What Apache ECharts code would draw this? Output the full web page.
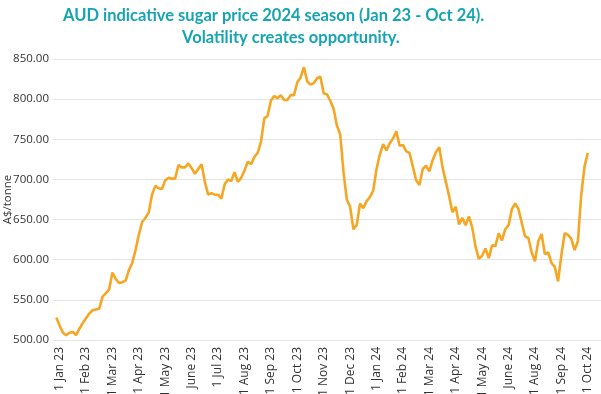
<!DOCTYPE html>
<html>
<head>
<meta charset="utf-8">
<script src="https://cdn.jsdelivr.net/npm/echarts@6/dist/echarts.min.js"></script>
<style>
html,body{margin:0;padding:0;background:#fff;}
#chart{width:601px;height:394px;}
</style>
</head>
<body>
<div id="chart"></div>
<script>
// Tick labels (evenly spaced on the category axis, one every 8 data points)
const tickLabels = ['1 Jan 23','1 Feb 23','1 Mar 23','1 Apr 23','1 May 23','1 June 23','1 Jul 23','1 Aug 23','1 Sep 23','1 Oct 23','1 Nov 23','1 Dec 23','1 Jan 24','1 Feb 24','1 Mar 24','1 Apr 24','1 May 24','1 June 24','1 Aug 24','1 Sep 24','1 Oct 24'];

// AUD indicative sugar price, A$/tonne
const prices = [
528,518,509,506,509,510,506,514,521,527,
533,537,538,539,554,558,563,584,576,571,
572,574,587,596,612,631,647,652,659,681,
692,689,688,699,702,701,701,718,715,715,
720,714,707,713,719,697,681,683,681,681,
676,694,700,698,709,697,702,711,722,719,
728,733,747,776,779,798,804,801,805,799,
799,805,805,821,827,840,822,818,820,826,
828,807,806,798,788,767,756,709,675,666,
638,643,670,664,673,678,686,713,731,744,
736,745,751,760,742,743,735,733,716,699,
693,713,717,710,724,734,740,715,697,679,
659,666,644,652,643,654,640,616,601,605,
614,602,618,617,633,624,638,643,663,670,
663,646,629,627,609,598,623,632,607,609,
596,591,573,606,633,631,626,612,623,680,
716,733
];

const pointsPerLabel = 8;
const firstTickOffset = 1;   // first data point is slightly before 1 Jan 23
const padBefore = 1, padAfter = 4;

const total = padBefore + prices.length + padAfter;
const categories = [];
const seriesData = [];
for (let j = 0; j < total; j++) {
  const d = j - padBefore;
  let lab = '';
  if (d >= 0 && d < prices.length && (d - firstTickOffset) % pointsPerLabel === 0) {
    const k = (d - firstTickOffset) / pointsPerLabel;
    if (k >= 0 && k < tickLabels.length) lab = tickLabels[k];
  }
  categories.push(lab);
  seriesData.push(d >= 0 && d < prices.length ? prices[d] : null);
}

const chart = echarts.init(document.getElementById('chart'), null, {renderer:'canvas'});
chart.setOption({
  animation: false,
  backgroundColor: '#ffffff',
  title: [
    {text: 'AUD indicative sugar price 2024 season (Jan 23 - Oct 24).', left: 58, top: 2,
     textStyle: {color: '#16a4b4', fontSize: 16.5, fontWeight: 'bold', fontFamily: 'Lato'}},
    {text: 'Volatility creates opportunity.', left: 177, top: 24,
     textStyle: {color: '#16a4b4', fontSize: 16.5, fontWeight: 'bold', fontFamily: 'Lato'}}
  ],
  grid: {left: 53, right: 0, top: 59, bottom: 54, containLabel: false, outerBoundsMode: 'none'},
  xAxis: {
    type: 'category',
    data: categories,
    boundaryGap: false,
    axisLine: {show: false},
    axisTick: {show: false},
    splitLine: {show: false},
    axisLabel: {
      interval: 0,
      rotate: 90,
      margin: 7,
      color: '#333',
      fontSize: 12,
      fontFamily: 'Open Sans'
    }
  },
  yAxis: {
    type: 'value',
    min: 500, max: 850, interval: 50,
    name: 'A$/tonne',
    nameLocation: 'middle',
    nameGap: 39,
    nameMoveOverlap: false,
    nameTextStyle: {color: '#333', fontSize: 11.5, fontFamily: 'Open Sans'},
    axisLine: {show: false},
    axisTick: {show: false},
    splitLine: {lineStyle: {color: '#e4e4e4', width: 1}},
    axisLabel: {
      margin: 4,
      color: '#333',
      fontSize: 11.5,
      fontFamily: 'Open Sans',
      formatter: v => v.toFixed(2)
    }
  },
  series: [{
    type: 'line',
    data: seriesData,
    showSymbol: false,
    connectNulls: false,
    lineStyle: {color: '#f6a623', width: 2.6},
    itemStyle: {color: '#f6a623'}
  }]
});
</script>
</body>
</html>
